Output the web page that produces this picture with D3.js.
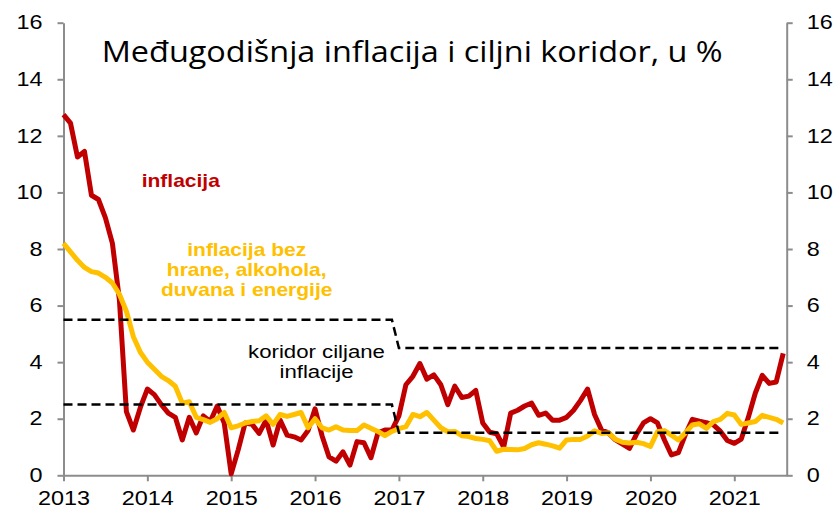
<!DOCTYPE html>
<html>
<head>
<meta charset="utf-8">
<script src="https://cdn.jsdelivr.net/npm/d3@7"></script>
<style>
  html, body { margin: 0; padding: 0; background: #fff; }
  svg { display: block; }
</style>
</head>
<body>
<div id="chart"></div>
<script>
// month index 0 = Jan 2013, last = Aug 2021
const years = ['2013', '2014', '2015', '2016', '2017', '2018', '2019', '2020', '2021'];

const inflation = [
  12.75, 12.45, 11.25, 11.45, 9.9, 9.75, 9.1, 8.2, 6.2, 2.25, 1.6, 2.4,
  3.05, 2.85, 2.5, 2.2, 2.05, 1.25, 2.05, 1.5, 2.1, 1.9, 2.45, 1.85,
  0.05, 0.9, 1.85, 1.8, 1.48, 1.95, 1.07, 1.95, 1.42, 1.36, 1.25, 1.58,
  2.35, 1.4, 0.65, 0.5, 0.83, 0.36, 1.19, 1.15, 0.62, 1.5, 1.6, 1.6,
  2.1, 3.2, 3.5, 3.95, 3.4, 3.55, 3.2, 2.5, 3.15, 2.75, 2.8, 3.0,
  1.85, 1.52, 1.47, 1.0, 2.2, 2.3, 2.45, 2.55, 2.12, 2.2, 1.95, 1.95,
  2.05, 2.3, 2.65, 3.05, 2.15, 1.6, 1.5, 1.25, 1.1, 0.95, 1.45, 1.85,
  2.0, 1.85, 1.25, 0.72, 0.8, 1.44, 1.98, 1.91, 1.86, 1.78, 1.56, 1.23,
  1.13, 1.28, 2.04, 2.9, 3.53, 3.25, 3.3, 4.31
];

const coreInflation = [
  8.2, 7.9, 7.6, 7.35, 7.2, 7.15, 7.0, 6.8, 6.4, 5.8, 4.9, 4.35,
  4.0, 3.75, 3.5, 3.35, 3.15, 2.55, 2.6, 2.05, 1.97, 1.87, 2.0, 2.22,
  1.68, 1.75, 1.85, 1.9, 1.93, 2.1, 1.8, 2.15, 2.08, 2.15, 2.22, 1.68,
  2.0, 1.68, 1.6, 1.72, 1.6, 1.58, 1.58, 1.78, 1.66, 1.55, 1.4, 1.55,
  1.65, 1.72, 2.15, 2.07, 2.22, 1.95, 1.68, 1.54, 1.55, 1.4, 1.37, 1.3,
  1.27, 1.22, 0.85, 0.92, 0.91, 0.9, 0.95, 1.08, 1.15, 1.1, 1.04, 0.96,
  1.25, 1.27, 1.27, 1.39, 1.57, 1.48, 1.5, 1.27, 1.17, 1.14, 1.17, 1.12,
  1.02, 1.54, 1.58, 1.42, 1.25, 1.5, 1.78, 1.82, 1.66, 1.9, 1.98, 2.19,
  2.13, 1.8, 1.85, 1.9, 2.12, 2.05, 1.98, 1.85
];

// target corridor: 4 +/- 1.5 until Dec 2016, 3 +/- 1.5 from Jan 2017
const corridorMonths = [0, 47, 48, 103];
const corridorHigh = [5.5, 5.5, 4.5, 4.5];
const corridorLow = [2.5, 2.5, 1.5, 1.5];

const yTicks = [0, 2, 4, 6, 8, 10, 12, 14, 16];

const width = 839;
const height = 510;
const margin = { top: 22.7, right: 52.3, bottom: 34.7, left: 63.5 };
const red = '#C00000';
const yellow = '#FFC000';
const axisColor = '#8c8c8c';
const arial = "'Liberation Sans', Arial, sans-serif";
const stretchX = 1.2; // text in the original is a bit wider than tall

const x = d3.scaleLinear()
  .domain([0, 103.5])
  .range([margin.left, width - margin.right]);

const y = d3.scaleLinear()
  .domain([0, 16])
  .range([height - margin.bottom, margin.top]);

const svg = d3.select('#chart')
  .append('svg')
  .attr('width', width)
  .attr('height', height)
  .attr('viewBox', [0, 0, width, height]);

// widen axis labels without moving their anchor
function stretchLabels(g) {
  g.selectAll('text').each(function () {
    const t = d3.select(this);
    const tx = +t.attr('x') || 0;
    const ty = +t.attr('y') || 0;
    t.attr('x', 0).attr('y', 0)
      .attr('transform', `translate(${tx},${ty}) scale(${stretchX},1)`);
  });
}

function styleAxis(g) {
  g.attr('font-family', arial).attr('font-size', 19.5);
  g.select('.domain').attr('stroke', axisColor).attr('stroke-width', 2);
  g.selectAll('.tick line').attr('stroke', axisColor).attr('stroke-width', 2);
  g.selectAll('.tick text').attr('fill', '#000');
  stretchLabels(g);
}

svg.append('g')
  .attr('transform', `translate(${margin.left},0)`)
  .call(d3.axisLeft(y).tickValues(yTicks).tickSize(6).tickSizeOuter(0).tickPadding(15))
  .call(styleAxis);

svg.append('g')
  .attr('transform', `translate(${width - margin.right},0)`)
  .call(d3.axisRight(y).tickValues(yTicks).tickSize(6).tickSizeOuter(0).tickPadding(14))
  .call(styleAxis);

svg.append('g')
  .attr('transform', `translate(0,${height - margin.bottom})`)
  .call(d3.axisBottom(x)
    .tickValues(years.map((_, i) => i * 12))
    .tickFormat(d => years[d / 12])
    .tickSize(6).tickSizeOuter(0).tickPadding(10))
  .call(styleAxis);

const line = d3.line()
  .x((d, i) => x(i))
  .y(d => y(d));

svg.append('path')
  .datum(inflation)
  .attr('fill', 'none')
  .attr('stroke', red)
  .attr('stroke-width', 5)
  .attr('stroke-linejoin', 'round')
  .attr('d', line);

svg.append('path')
  .datum(coreInflation)
  .attr('fill', 'none')
  .attr('stroke', yellow)
  .attr('stroke-width', 5)
  .attr('stroke-linejoin', 'round')
  .attr('d', line);

const corridorLine = d3.line()
  .x((d, i) => x(corridorMonths[i]))
  .y(d => y(d));

[corridorHigh, corridorLow].forEach(band => {
  svg.append('path')
    .datum(band)
    .attr('fill', 'none')
    .attr('stroke', '#000')
    .attr('stroke-width', 2.5)
    .attr('stroke-dasharray', '9,5')
    .attr('d', corridorLine);
});

// labels
function label(lines, cx, baseline, lineGap, opts) {
  const g = svg.append('g');
  lines.forEach((txt, i) => {
    g.append('text')
      .attr('transform', `translate(${cx},${baseline + i * lineGap}) scale(${stretchX},1)`)
      .attr('text-anchor', opts.anchor || 'middle')
      .attr('font-family', arial)
      .attr('font-size', opts.size)
      .attr('font-weight', opts.weight || 'normal')
      .attr('fill', opts.color)
      .text(txt);
  });
}

label(['inflacija'], 141.7, 187, 0, { anchor: 'start', size: 17.5, weight: 'bold', color: red });
label(['inflacija bez', 'hrane, alkohola,', 'duvana i energije'], 246.7, 256, 20,
  { size: 17.5, weight: 'bold', color: yellow });
label(['koridor ciljane', 'inflacije'], 316.5, 357.7, 20, { size: 18.5, color: '#000' });

// title, fitted to the width it takes in the original
const title = svg.append('text')
  .attr('font-family', "'Open Sans', 'Noto Sans', sans-serif")
  .attr('font-size', 30)
  .attr('fill', '#000')
  .text('Međugodišnja inflacija i ciljni koridor, u %');
const titleWidth = title.node().getComputedTextLength();
title.attr('transform', `translate(101.7,61.7) scale(${621 / titleWidth},1)`);
</script>
</body>
</html>
